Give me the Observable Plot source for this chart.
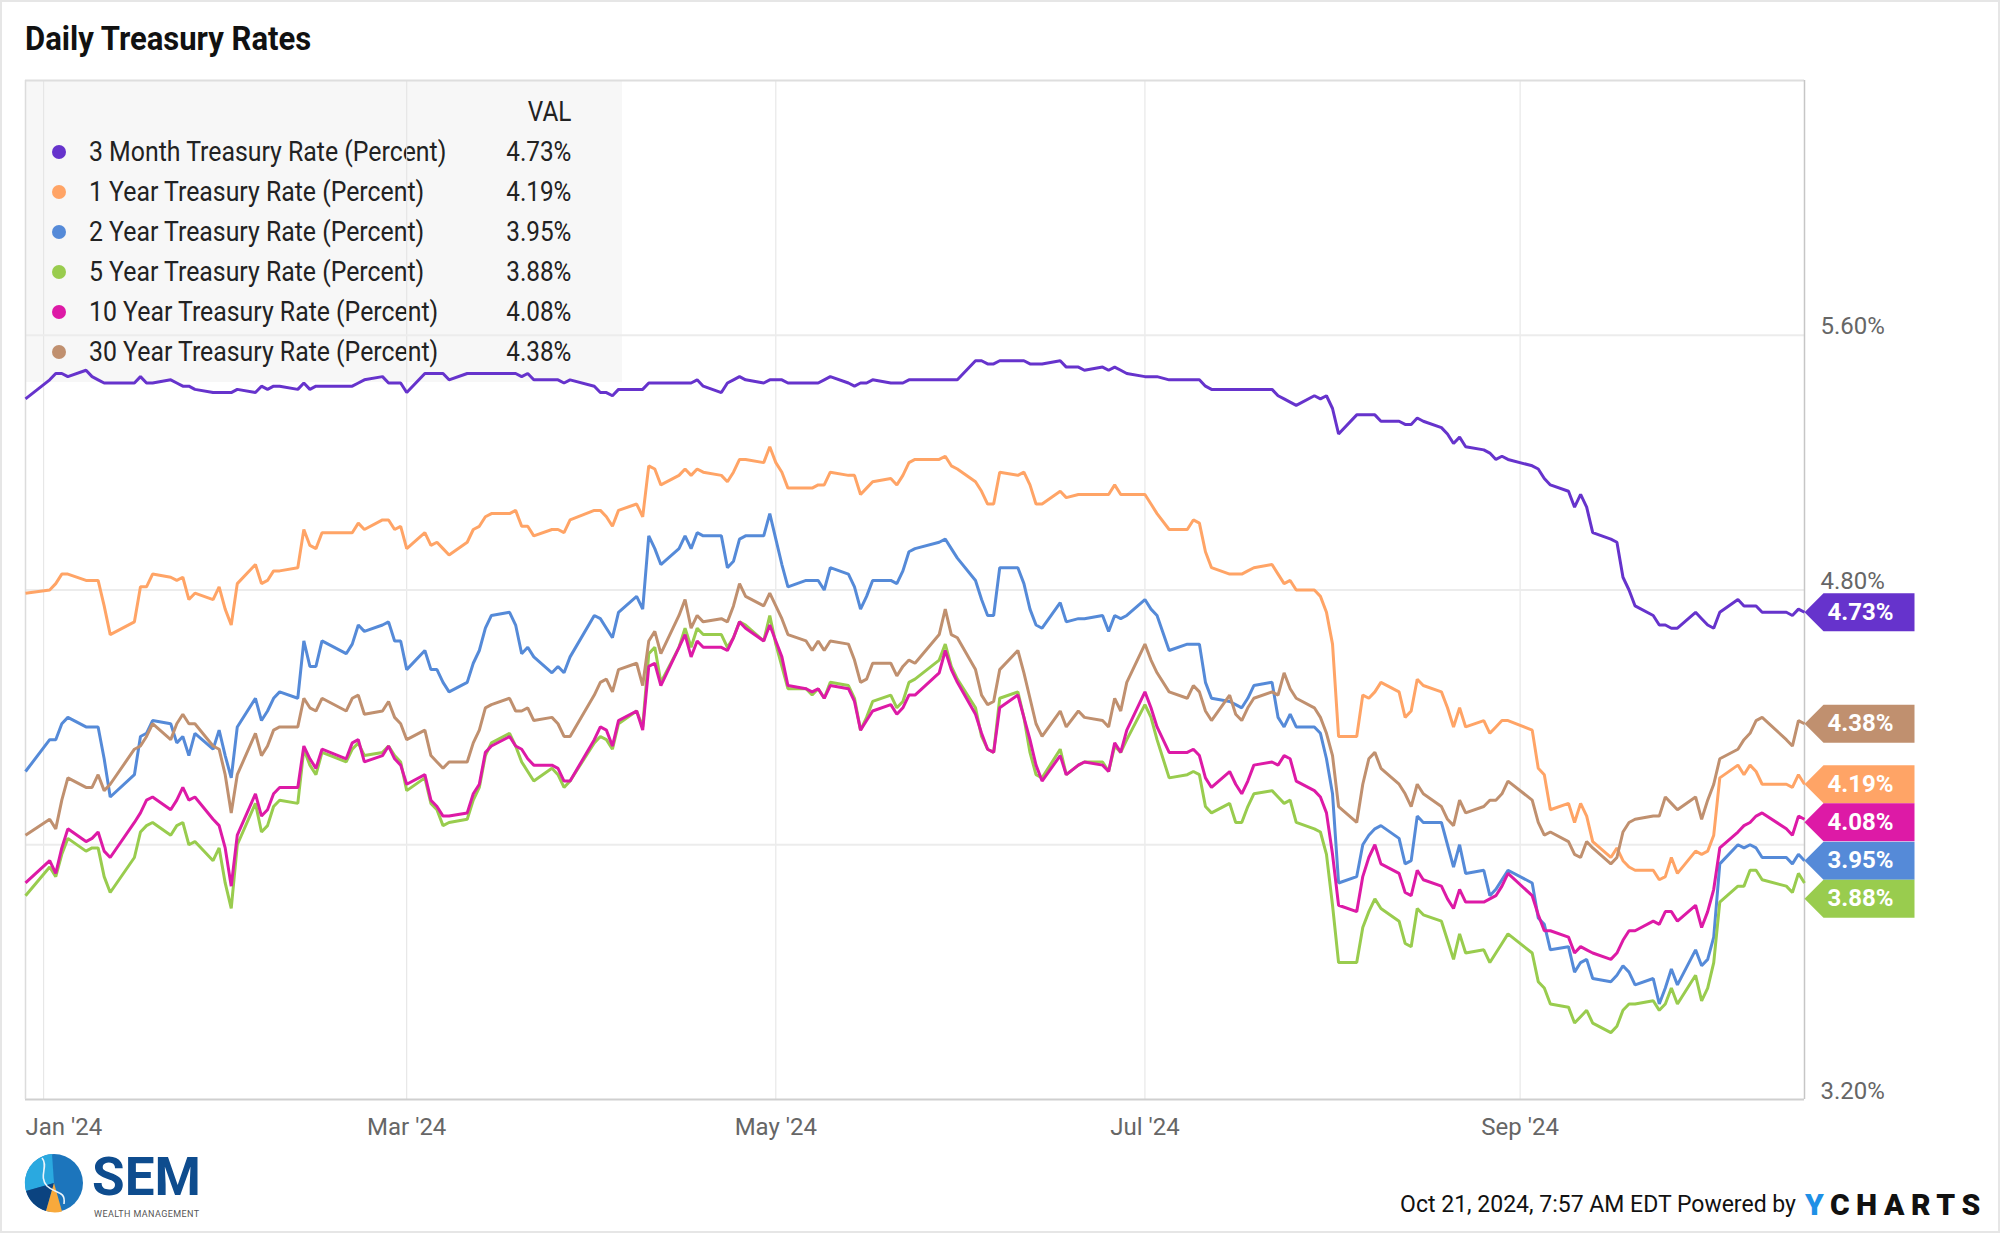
<!DOCTYPE html>
<html>
<head>
<meta charset="utf-8">
<script src="https://cdn.jsdelivr.net/npm/d3@7"></script>
<script src="https://cdn.jsdelivr.net/npm/@observablehq/plot@0.6"></script>
<style>
  html, body { margin: 0; padding: 0; background: #fff; }
  #wrap { position: relative; width: 2000px; height: 1233px; overflow: hidden; font-family: Roboto, "Noto Sans", sans-serif; background: #fff; }
  #pageborder { position: absolute; left: 0; top: 0; width: 2000px; height: 1233px; box-sizing: border-box; border: 2px solid #e6e6e6; pointer-events: none; z-index: 5; }
  #title { position: absolute; left: 25px; top: 22px; font-size: 33px; line-height: 1; font-weight: 700; color: #111; white-space: nowrap; transform: scaleX(0.94); transform-origin: left center; }
  #legend { position: absolute; left: 25px; top: 80px; width: 597px; height: 302px; background: #f7f7f7; z-index: 0; }
  #chart { position: absolute; left: 0; top: 0; z-index: 1; }
  .lrow { position: absolute; left: 0; width: 597px; height: 40px; line-height: 40px; font-size: 27px; color: #222; white-space: nowrap; }
  .ldot { position: absolute; left: 27px; top: 13px; width: 14px; height: 14px; border-radius: 50%; }
  .lname { position: absolute; left: 64px; transform: scaleX(0.92); transform-origin: left center; }
  .lval { position: absolute; right: 51px; transform: scaleX(0.9); transform-origin: right center; }
  #stamp { position: absolute; right: 204px; top: 1193px; font-size: 23px; line-height: 1; color: #111; white-space: nowrap; }
  #ycharts { position: absolute; left: 1805px; top: 1190px; font-size: 30px; line-height: 1; font-weight: 900; letter-spacing: 6.5px; color: #111; white-space: nowrap; }
  #ycharts span { color: #1e90e6; }
  #logo { position: absolute; left: 22px; top: 1138px; }
</style>
</head>
<body>
<div id="wrap">
  <div id="title">Daily Treasury Rates</div>
  <div id="legend"></div>
  <div id="chart"></div>
  <svg id="logo" width="200" height="92" viewBox="0 0 200 92">
    <circle cx="32" cy="45" r="29" fill="#1c75bc"/>
    <path d="M32,45 L30,16 A29,29 0 0,0 4,53 Z" fill="#2aa9e0"/>
    <path d="M32,45 L4,53 A29,29 0 0,0 24,73 Z" fill="#0b4380"/>
    <path d="M32,45 L24,73 A29,29 0 0,0 40,73.5 Z" fill="#f8a93b"/>
    <path d="M20,20 C27,28 16,38 25,48 C33,56 44,52 42,66" stroke="#eaf4fb" fill="none" stroke-width="1.6"/>
    <text x="70" y="57" font-family="Roboto, sans-serif" font-weight="700" font-size="53" fill="#0e4c8e">SEM</text>
    <text x="72" y="79" font-family="Roboto, sans-serif" font-size="9" letter-spacing="0.4" fill="#555">WEALTH MANAGEMENT</text>
  </svg>
  <div id="stamp">Oct 21, 2024, 7:57 AM EDT Powered by</div>
  <div id="ycharts"><span>Y</span>CHARTS</div>
  <div id="pageborder"></div>
</div>
<script>
// ---------- data (daily Treasury par yields, %) ----------
const startDate = "2023-12-29";
const endDate = "2024-10-18";
const holidays = ["2024-01-01","2024-01-15","2024-02-19","2024-03-29","2024-05-27","2024-06-19","2024-07-04","2024-09-02","2024-10-14"];

const seriesNames = [
  "3 Month Treasury Rate (Percent)",
  "1 Year Treasury Rate (Percent)",
  "2 Year Treasury Rate (Percent)",
  "5 Year Treasury Rate (Percent)",
  "10 Year Treasury Rate (Percent)",
  "30 Year Treasury Rate (Percent)"
];
const seriesColors = ["#6633cc", "#ffa466", "#558ad8", "#99cc4e", "#dd1aa6", "#c0906f"];

const rate3m = [5.40,
  5.46,5.48,5.48,5.47, 5.49,5.47,5.46,5.45,5.45, 5.45,5.47,5.45,5.45, 5.46,5.45,5.44,5.44,5.43, 5.42,5.42,5.42,
  5.42,5.43, 5.42,5.44,5.43,5.44,5.44, 5.43,5.45,5.43,5.44,5.44, 5.44,5.44,5.45,5.46, 5.47,5.45,5.45,5.45,
  5.42, 5.48,5.48,5.48,5.48,5.46, 5.48,5.48,5.48,5.48,5.48, 5.48,5.48,5.47,5.48,5.46, 5.46,5.46,5.45,5.46,
  5.44,5.42,5.42,5.41,5.43, 5.43,5.43,5.45,5.45,5.45, 5.45,5.45,5.45,5.46,5.44, 5.42,5.45,5.46,5.47,5.46, 5.45,5.46,
  5.46,5.46,5.45, 5.45,5.45,5.45,5.46,5.47, 5.45,5.44,5.45,5.45,5.46, 5.45,5.45,5.45,5.46,5.46, 5.46,5.46,5.46,5.46,
  5.52,5.52,5.51,5.51,5.52, 5.52,5.52,5.51,5.51,5.51, 5.52,5.50,5.50,5.49, 5.50,5.49,5.50,5.49,5.48,
  5.47,5.47,5.47,5.46, 5.46,5.46,5.46,5.44,5.43, 5.43,5.43,5.43,5.43,5.43, 5.43,5.41,5.40,5.39,5.38, 5.41,5.40,5.41,
  5.37,5.29, 5.35,5.35,5.35,5.35,5.33, 5.33,5.32,5.32,5.34,5.33, 5.31,5.29,5.26,5.28,5.25, 5.24,5.23,5.21,5.22,5.21,
  5.19,5.18,5.15,5.13, 5.11,5.06,5.10,5.06,4.98, 4.96,4.95,4.84,4.80,4.75, 4.72,4.69,4.69,4.68,4.68, 4.73,
  4.71,4.69,4.68,4.73, 4.77,4.75,4.75,4.75,4.73, 4.73,4.72,4.74,4.73];

const rate1y = [4.79,
  4.80,4.82,4.85,4.85, 4.83,4.83,4.83,4.75,4.66, 4.70,4.81,4.81,4.85, 4.84,4.83,4.84,4.77,4.79, 4.77,4.81,4.74,
  4.69,4.82, 4.88,4.82,4.83,4.86,4.86, 4.87,4.99,4.94,4.93,4.98, 4.98,4.98,5.01,4.99, 5.02,5.02,4.99,5.00,
  4.93, 4.98,4.94,4.95,4.93,4.91, 4.95,4.99,5.00,5.03,5.04, 5.04,5.05,5.00,5.00,4.97, 4.99,4.99,4.98,5.02,
  5.05,5.05,5.03,5.00,5.05, 5.07,5.03,5.19,5.18,5.13, 5.16,5.18,5.16,5.18,5.17, 5.16,5.14,5.17,5.21,5.21, 5.20,5.25,
  5.20,5.17,5.12, 5.12,5.12,5.13,5.13,5.17, 5.16,5.16,5.10,5.12,5.14, 5.15,5.13,5.16,5.20,5.21, 5.21,5.22,5.19,5.18,
  5.14,5.11,5.07,5.07,5.17, 5.16,5.17,5.13,5.07,5.07, 5.11,5.09,5.10,5.10, 5.10,5.10,5.13,5.10,5.10,
  5.10,5.07,5.04,4.99, 4.99,5.02,5.01,4.92,4.87, 4.85,4.85,4.85,4.86,4.87, 4.88,4.85,4.82,4.83,4.80, 4.80,4.78,4.73,
  4.63,4.34, 4.34,4.47,4.46,4.48,4.51, 4.48,4.40,4.42,4.52,4.50, 4.48,4.43,4.37,4.43,4.37, 4.39,4.35,4.37,4.39,4.39,
  4.36,4.24,4.22,4.11, 4.13,4.07,4.13,4.09,4.01, 3.96,3.99,3.95,3.93,3.92, 3.92,3.89,3.90,3.96,3.91, 3.98,
  3.97,3.98,4.03,4.21, 4.25,4.22,4.25,4.23,4.19, 4.19,4.18,4.22,4.19];

const rate2y = [4.23,
  4.33,4.33,4.38,4.40, 4.37,4.37,4.37,4.27,4.15, 4.22,4.34,4.35,4.39, 4.38,4.32,4.34,4.28,4.35, 4.30,4.36,4.28,
  4.21,4.37, 4.46,4.39,4.42,4.46,4.48, 4.46,4.64,4.56,4.56,4.64, 4.60,4.63,4.69,4.67, 4.69,4.70,4.64,4.64,
  4.55, 4.61,4.55,4.55,4.51,4.48, 4.51,4.57,4.61,4.68,4.72, 4.73,4.69,4.60,4.62,4.59, 4.54,4.56,4.54,4.59,
  4.72,4.71,4.68,4.65,4.73, 4.78,4.74,4.97,4.93,4.88, 4.93,4.97,4.93,4.98,4.97, 4.97,4.87,4.89,4.96,4.97, 4.97,5.04,
  4.96,4.88,4.81, 4.83,4.83,4.83,4.80,4.87, 4.85,4.81,4.74,4.78,4.83, 4.83,4.82,4.86,4.92,4.93, 4.95,4.96,4.93,4.90,
  4.83,4.77,4.72,4.72,4.87, 4.87,4.82,4.74,4.69,4.68, 4.76,4.70,4.71,4.71, 4.72,4.67,4.72,4.71,4.72,
  4.77,4.74,4.72,4.61, 4.63,4.63,4.63,4.51,4.46, 4.45,4.44,4.43,4.46,4.50, 4.51,4.40,4.37,4.41,4.37, 4.37,4.35,4.27,
  4.16,3.88, 3.90,4.00,4.03,4.05,4.06, 4.02,3.94,3.95,4.09,4.07, 4.07,4.00,3.93,4.00,3.91, 3.92,3.84,3.86,3.89,3.92,
  3.88,3.77,3.75,3.67, 3.68,3.60,3.63,3.64,3.58, 3.57,3.59,3.62,3.60,3.56, 3.58,3.50,3.55,3.61,3.56, 3.67,
  3.62,3.64,3.71,3.94, 4.00,3.99,4.00,3.99,3.96, 3.96,3.94,3.97,3.95];

const rate5y = [3.84,
  3.93,3.90,3.97,4.02, 3.98,3.99,3.99,3.90,3.85, 3.96,4.04,4.06,4.07, 4.03,4.06,4.07,4.00,4.01, 3.95,3.99,3.88,
  3.80,4.00, 4.13,4.04,4.06,4.12,4.14, 4.13,4.30,4.25,4.22,4.29, 4.26,4.30,4.32,4.28, 4.29,4.31,4.28,4.26,
  4.17, 4.21,4.13,4.11,4.06,4.07, 4.08,4.14,4.18,4.28,4.32, 4.35,4.31,4.26,4.23,4.20, 4.24,4.22,4.18,4.20,
  4.32,4.34,4.33,4.30,4.38, 4.42,4.37,4.60,4.62,4.51, 4.62,4.68,4.62,4.68,4.66, 4.66,4.62,4.65,4.70,4.69, 4.64,4.72,
  4.63,4.56,4.49, 4.49,4.47,4.49,4.46,4.51, 4.50,4.46,4.36,4.40,4.45, 4.47,4.43,4.45,4.51,4.52, 4.58,4.63,4.56,4.52,
  4.43,4.34,4.30,4.29,4.46, 4.48,4.40,4.29,4.22,4.21, 4.30,4.22,4.25,4.26, 4.26,4.23,4.31,4.29,4.33,
  4.44,4.40,4.33,4.21, 4.22,4.23,4.22,4.12,4.10, 4.13,4.07,4.07,4.12,4.16, 4.17,4.15,4.13,4.14,4.07, 4.05,4.04,3.97,
  3.81,3.63, 3.63,3.74,3.79,3.83,3.80, 3.76,3.69,3.68,3.80,3.78, 3.76,3.70,3.64,3.72,3.66, 3.67,3.63,3.66,3.69,3.72,
  3.66,3.57,3.55,3.50, 3.49,3.44,3.46,3.48,3.44, 3.41,3.43,3.48,3.50,3.50, 3.51,3.48,3.50,3.55,3.50, 3.59,
  3.51,3.55,3.63,3.82, 3.87,3.87,3.92,3.92,3.89, 3.87,3.85,3.91,3.88];

const rate10y = [3.88,
  3.95,3.91,3.99,4.05, 4.01,4.02,4.04,3.98,3.96, 4.07,4.10,4.14,4.15, 4.11,4.14,4.18,4.14,4.15, 4.08,4.06,3.99,
  3.87,4.03, 4.16,4.09,4.11,4.16,4.18, 4.18,4.31,4.27,4.24,4.30, 4.27,4.32,4.33,4.26, 4.28,4.31,4.27,4.25,
  4.19, 4.22,4.14,4.12,4.09,4.09, 4.10,4.16,4.19,4.29,4.31, 4.34,4.31,4.30,4.27,4.25, 4.25,4.24,4.20,4.20,
  4.33,4.37,4.36,4.31,4.39, 4.42,4.36,4.56,4.57,4.50, 4.62,4.66,4.59,4.64,4.62, 4.62,4.61,4.65,4.70,4.68, 4.64,4.69,
  4.64,4.59,4.50, 4.49,4.48,4.49,4.46,4.50, 4.49,4.45,4.36,4.39,4.42, 4.44,4.41,4.43,4.47,4.47, 4.54,4.61,4.55,4.51,
  4.41,4.35,4.30,4.29,4.43, 4.47,4.40,4.33,4.25,4.20, 4.28,4.22,4.25,4.26, 4.25,4.23,4.32,4.29,4.36,
  4.48,4.43,4.37,4.29, 4.29,4.30,4.28,4.21,4.18, 4.23,4.19,4.16,4.20,4.25, 4.26,4.25,4.28,4.27,4.20, 4.17,4.15,4.10,
  3.97,3.81, 3.79,3.90,3.96,4.00,3.94, 3.91,3.85,3.84,3.92,3.89, 3.87,3.83,3.80,3.86,3.82, 3.82,3.83,3.84,3.87,3.91,
  3.84,3.78,3.73,3.73, 3.71,3.66,3.68,3.67,3.66, 3.64,3.66,3.70,3.73,3.73, 3.76,3.75,3.79,3.79,3.76, 3.81,
  3.74,3.79,3.86,3.99, 4.04,4.06,4.07,4.09,4.10, 4.05,4.03,4.09,4.08];

const rate30y = [4.03,
  4.08,4.05,4.14,4.21, 4.18,4.18,4.22,4.17,4.19, 4.30,4.31,4.34,4.38, 4.33,4.38,4.41,4.38,4.38, 4.31,4.30,4.22,
  4.10,4.22, 4.35,4.28,4.31,4.36,4.37, 4.37,4.46,4.43,4.42,4.46, 4.42,4.46,4.47,4.41, 4.42,4.45,4.40,4.38,
  4.33, 4.36,4.28,4.26,4.24,4.26, 4.26,4.32,4.36,4.43,4.44, 4.46,4.42,4.42,4.43,4.39, 4.40,4.38,4.34,4.34,
  4.47,4.51,4.52,4.48,4.55, 4.57,4.50,4.64,4.67,4.60, 4.72,4.77,4.68,4.72,4.70, 4.71,4.70,4.75,4.82,4.78, 4.75,4.79,
  4.75,4.71,4.66, 4.64,4.61,4.64,4.61,4.64, 4.63,4.58,4.51,4.52,4.57, 4.57,4.53,4.56,4.58,4.57, 4.66,4.74,4.66,4.65,
  4.55,4.47,4.44,4.45,4.55, 4.61,4.54,4.46,4.38,4.34, 4.42,4.37,4.42,4.40, 4.39,4.37,4.46,4.42,4.51,
  4.63,4.58,4.54,4.48, 4.46,4.50,4.48,4.42,4.39, 4.47,4.41,4.39,4.43,4.46, 4.48,4.47,4.54,4.49,4.46, 4.43,4.40,4.35,
  4.28,4.12, 4.07,4.19,4.27,4.29,4.24, 4.19,4.16,4.12,4.19,4.16, 4.12,4.08,4.06,4.14,4.10, 4.12,4.14,4.14,4.16,4.20,
  4.14,4.07,4.03,4.04, 4.01,3.97,3.96,4.01,3.99, 3.94,3.96,4.04,4.07,4.08, 4.09,4.09,4.15,4.13,4.11, 4.15,
  4.08,4.14,4.19,4.27, 4.30,4.33,4.35,4.39,4.40, 4.33,4.31,4.39,4.38];

const seriesValues = [rate3m, rate1y, rate2y, rate5y, rate10y, rate30y];

// axis ticks
const xTickDates = ["2024-01-01", "2024-03-01", "2024-05-01", "2024-07-01", "2024-09-01"];
const yGridTicks = [3.2, 4.0, 4.8, 5.6, 6.4];
const yLabelTicks = [3.2, 4.8, 5.6];

// ---------- build ----------
const isoDay = d3.utcFormat("%Y-%m-%d");
const dates = d3.utcDays(new Date(startDate), d3.utcDay.offset(new Date(endDate), 1))
  .filter(d => d.getUTCDay() % 6 !== 0 && !holidays.includes(isoDay(d)));
seriesValues.forEach((vals, i) => {
  if (vals.length !== dates.length) throw new Error(`series ${i} has ${vals.length} values, expected ${dates.length}`);
});

const rows = seriesNames.flatMap((name, i) => dates.map((date, j) => ({date, series: name, value: seriesValues[i][j]})));
const xTicks = xTickDates.map(s => new Date(s));
const xDomain = [dates[0], dates[dates.length - 1]];
const yDomain = [yGridTicks[0], yGridTicks[yGridTicks.length - 1]];

// layout
const W = 2000, H = 1233, M = {top: 80, right: 196, bottom: 134, left: 25};
const tagH = 38;
const unitsPerPx = (yDomain[1] - yDomain[0]) / (H - M.top - M.bottom);

// end-of-series tags, dodged vertically so they don't overlap
const tags = seriesNames.map((name, i) => ({series: name, date: xDomain[1], value: seriesValues[i][dates.length - 1]}))
  .sort((a, b) => b.value - a.value);
let prev = Infinity;
for (const t of tags) { t.labelY = Math.min(t.value, prev - tagH * unitsPerPx); prev = t.labelY; }

const tagSymbol = {
  draw(ctx) {
    ctx.moveTo(0, 0);
    ctx.lineTo(19, -tagH / 2);
    ctx.lineTo(110, -tagH / 2);
    ctx.lineTo(110, tagH / 2);
    ctx.lineTo(19, tagH / 2);
    ctx.closePath();
  }
};

const fmtPct = d => d.toFixed(2) + "%";
const fmtMonth = d3.utcFormat("%b '%y");

const chart = Plot.plot({
  width: W, height: H,
  marginTop: M.top, marginRight: M.right, marginBottom: M.bottom, marginLeft: M.left,
  style: {background: "transparent", fontFamily: "Roboto, sans-serif", overflow: "visible"},
  x: {type: "utc", domain: xDomain, axis: null},
  y: {domain: yDomain, axis: null},
  color: {domain: seriesNames, range: seriesColors},
  marks: [
    Plot.ruleX(xTicks, {stroke: "#e3e3e3", strokeWidth: 1}),
    Plot.ruleY(yGridTicks.slice(1, -1), {stroke: "#ececec", strokeWidth: 2}),
    Plot.ruleY([yDomain[1]], {stroke: "#dedede", strokeWidth: 2}),
    Plot.ruleY([yDomain[0]], {stroke: "#cfcfcf", strokeWidth: 2}),
    Plot.ruleX([xDomain[0]], {stroke: "#dcdcdc", strokeWidth: 1.5}),
    Plot.ruleX([xDomain[1]], {stroke: "#c6c6c6", strokeWidth: 1.5}),
    Plot.line(rows, {x: "date", y: "value", z: "series", stroke: "series", strokeWidth: 3, strokeLinejoin: "miter", strokeLinecap: "butt"}),
    Plot.text(yLabelTicks, {y: d => d, frameAnchor: "right", dx: 16, dy: -1, textAnchor: "start", lineAnchor: "bottom", text: fmtPct, fontSize: 24, fill: "#666"}),
    Plot.text(xTicks.slice(1), {x: d => d, frameAnchor: "bottom", dy: 18, lineAnchor: "top", textAnchor: "middle", text: fmtMonth, fontSize: 24, fill: "#666"}),
    Plot.text(xTicks.slice(0, 1), {x: () => xDomain[0], frameAnchor: "bottom", dy: 18, lineAnchor: "top", textAnchor: "start", text: fmtMonth, fontSize: 24, fill: "#666"}),
    Plot.dot(tags, {x: "date", y: "labelY", fill: "series", symbol: tagSymbol}),
    Plot.text(tags, {x: "date", y: "labelY", text: d => fmtPct(d.value), dx: 56, textAnchor: "middle", fill: "white", fontWeight: 700, fontSize: 24})
  ]
});
document.getElementById("chart").appendChild(chart);

// legend (HTML, sits beneath the plot's transparent svg)
const legend = document.getElementById("legend");
const head = document.createElement("div");
head.className = "lrow"; head.style.top = "12px";
head.innerHTML = `<span class="lval">VAL</span>`;
legend.appendChild(head);
seriesNames.forEach((name, i) => {
  const r = document.createElement("div");
  r.className = "lrow";
  r.style.top = (52 + 40 * i) + "px";
  r.innerHTML = `<span class="ldot" style="background:${seriesColors[i]}"></span><span class="lname">${name}</span><span class="lval">${fmtPct(seriesValues[i][dates.length - 1])}</span>`;
  legend.appendChild(r);
});
</script>
</body>
</html>
